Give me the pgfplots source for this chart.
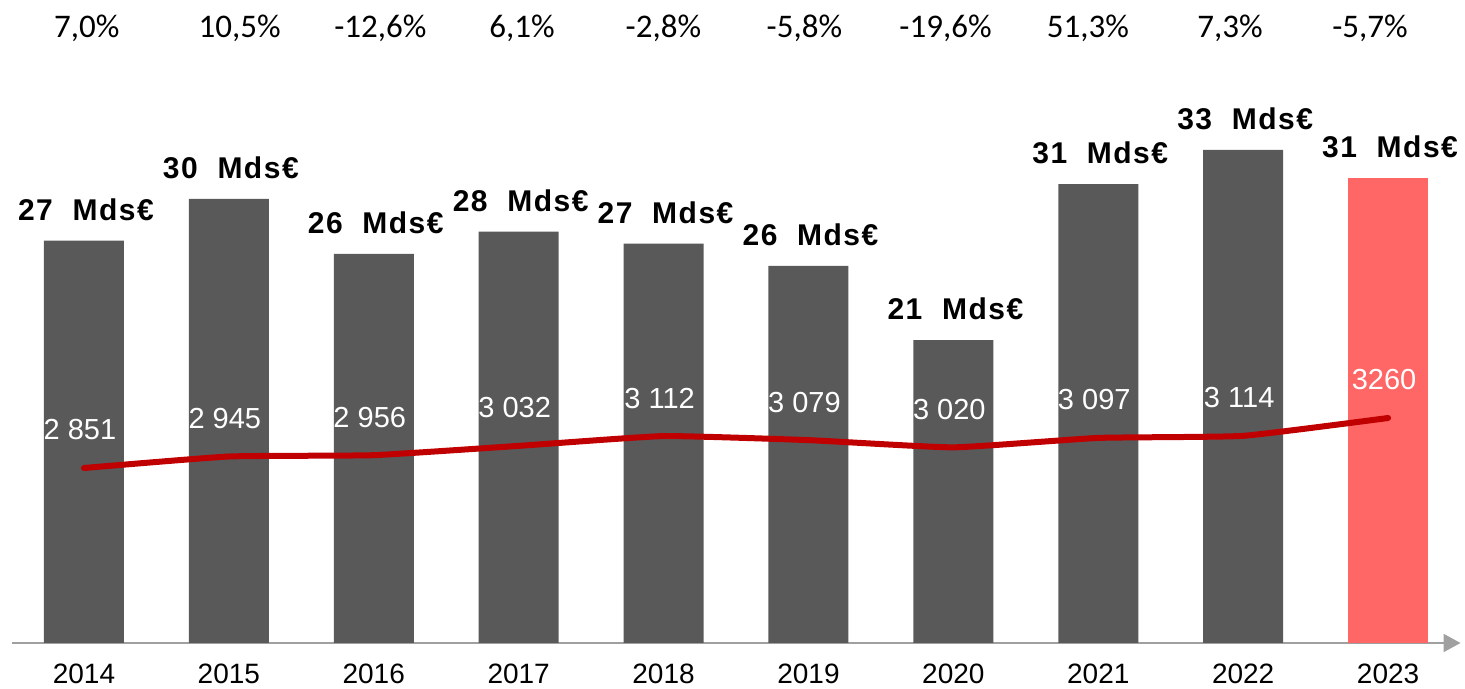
\documentclass[border=0pt]{standalone}
\usepackage{fontspec}
\setmainfont{Liberation Sans}
\newfontfamily\calfont{Carlito}
\newfontfamily\boldlbl[LetterSpace=5]{Liberation Sans}
\usepackage{pgfplots}
\pgfplotsset{compat=1.18}
\usetikzlibrary{arrows.meta}
\definecolor{bargray}{HTML}{595959}
\definecolor{barred}{HTML}{FF6666}
\definecolor{linered}{HTML}{C00000}
\definecolor{axisgray}{HTML}{A0A0A0}
\begin{document}
\begin{tikzpicture}
\begin{axis}[
  scale only axis, width=724.5pt, height=321.5pt,
  xmin=-0.5, xmax=9.5, ymin=0, ymax=43.3,
  axis x line=bottom, axis y line=none,
  x axis line style={draw=axisgray, line width=1pt, -{Triangle[length=8.5pt,width=9pt]}},
  xtick={0,1,2,3,4,5,6,7,8,9},
  xticklabels={2014,2015,2016,2017,2018,2019,2020,2021,2022,2023},
  major tick length=0pt,
  xticklabel style={font=\fontsize{14}{16}\selectfont, anchor=base, yshift=-20.5pt, inner sep=0pt},
  ytick=\empty,
  clip=false,
  ybar, bar width=40pt,
  nodes near coords, point meta=explicit symbolic,
  every node near coord/.append style={font=\boldlbl\bfseries\fontsize{15}{18}\selectfont, text=black, anchor=center, yshift=15.5pt, xshift=1pt},
]
\addplot[fill=bargray, draw=none, bar shift=0pt] coordinates {
  (0,27.1) [27~~Mds€]
  (1,29.9) [30~~Mds€]
  (2,26.2) [26~~Mds€]
  (3,27.7) [28~~Mds€]
  (4,26.9) [27~~Mds€]
  (5,25.4) [26~~Mds€]
  (6,20.4) [21~~Mds€]
  (7,30.9) [31~~Mds€]
  (8,33.2) [33~~Mds€]
};
\addplot[fill=barred, draw=none, bar shift=0pt] coordinates {
  (9,31.3) [31~~Mds€]
};
\begin{scope}[every node/.style={font=\calfont\fontsize{16.5}{19}\selectfont, text=black}]
\node at (axis cs:0.019,41.4) {7,0\%};
\node at (axis cs:1.075,41.4) {10,5\%};
\node at (axis cs:2.046,41.4) {-12,6\%};
\node at (axis cs:3.023,41.4) {6,1\%};
\node at (axis cs:3.999,41.4) {-2,8\%};
\node at (axis cs:4.972,41.4) {-5,8\%};
\node at (axis cs:5.946,41.4) {-19,6\%};
\node at (axis cs:6.928,41.4) {51,3\%};
\node at (axis cs:7.909,41.4) {7,3\%};
\node at (axis cs:8.875,41.4) {-5,7\%};
\end{scope}
\end{axis}
\begin{axis}[
  scale only axis, width=724.5pt, height=321.5pt,
  xmin=-0.5, xmax=9.5, ymin=1419.5, ymax=6679.5,
  hide axis, clip=false,
]
\addplot[linered, line width=3pt, line cap=round, line join=round, smooth, tension=0.25, mark=none,
  nodes near coords, point meta=explicit symbolic,
  every node near coord/.append style={text=white, font=\fontsize{14.5}{17}\selectfont, anchor=center, yshift=19pt, xshift=-2pt}]
coordinates {
  (0,2851) [2 851]
  (1,2945) [2 945]
  (2,2956) [2 956]
  (3,3032) [3 032]
  (4,3112) [3 112]
  (5,3079) [3 079]
  (6,3020) [3 020]
  (7,3097) [3 097]
  (8,3114) [3 114]
  (9,3260) [3260]
};
\end{axis}
\pgfresetboundingbox
\path[use as bounding box] (-5.75pt,-23pt) rectangle (726.75pt,321.5pt);
\end{tikzpicture}
\end{document}
